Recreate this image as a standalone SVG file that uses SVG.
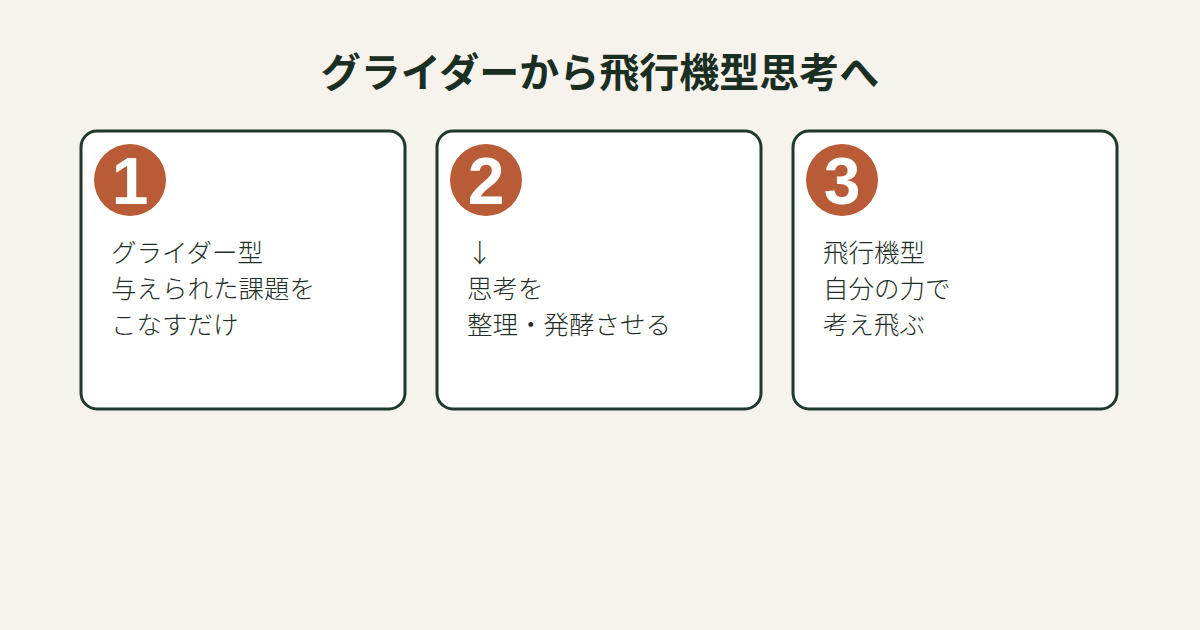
<svg xmlns="http://www.w3.org/2000/svg" width="1200" height="630" viewBox="0 0 1200 630">
<style>
.title{font-family:"Noto Sans CJK JP","Noto Sans",sans-serif;font-size:40px;font-weight:700;fill:#1a2e22;text-anchor:middle}
.card{fill:#ffffff;stroke:#1f3a2d;stroke-width:3}
.badge{fill:#b85c38}
.num{font-family:"Liberation Sans",Arial,sans-serif;font-size:66px;font-weight:700;fill:#ffffff;text-anchor:middle}
.body{font-family:"Noto Sans CJK JP","Noto Sans",sans-serif;font-size:25.5px;font-weight:300;fill:#1f2f27}
</style>
<rect width="1200" height="630" fill="#f6f3ed"/>
<text class="title" x="600" y="87">グライダーから飛行機型思考へ</text>
<g id="card1">
<rect class="card" x="81" y="131" width="324" height="278" rx="16"/>
<circle class="badge" cx="130" cy="180" r="36"/>
<text class="num" x="130" y="204">1</text>
<text class="body" x="111" y="262">グライダー型</text>
<text class="body" x="111" y="298">与えられた課題を</text>
<text class="body" x="111" y="334">こなすだけ</text>
</g>
<g id="card2">
<rect class="card" x="437" y="131" width="324" height="278" rx="16"/>
<circle class="badge" cx="486" cy="180" r="36"/>
<text class="num" x="486" y="204">2</text>
<text class="body" x="467" y="262">↓</text>
<text class="body" x="467" y="298">思考を</text>
<text class="body" x="467" y="334">整理・発酵させる</text>
</g>
<g id="card3">
<rect class="card" x="793" y="131" width="324" height="278" rx="16"/>
<circle class="badge" cx="842" cy="180" r="36"/>
<text class="num" x="842" y="204">3</text>
<text class="body" x="823" y="262">飛行機型</text>
<text class="body" x="823" y="298">自分の力で</text>
<text class="body" x="823" y="334">考え飛ぶ</text>
</g>
<g id="connectors"/>
</svg>
